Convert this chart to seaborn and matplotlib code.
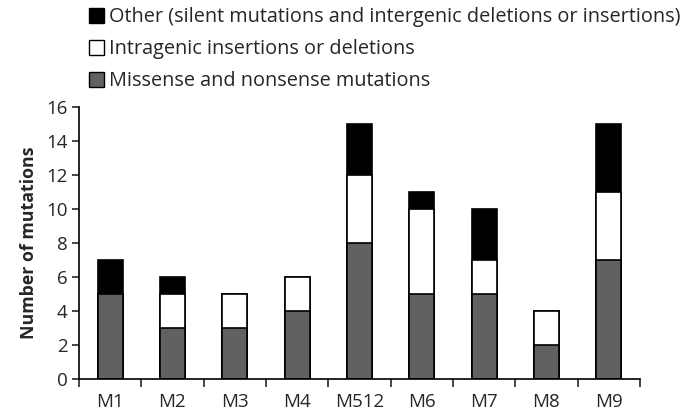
import numpy as np
import pandas as pd
import matplotlib
matplotlib.use('Agg')
import matplotlib.pyplot as plt
import seaborn as sns
from matplotlib.patches import Patch

strains = ['M1', 'M2', 'M3', 'M4', 'M512', 'M6', 'M7', 'M8', 'M9']
missense = [5, 3, 3, 4, 8, 5, 5, 2, 7]
indels = [0, 2, 2, 2, 4, 5, 2, 2, 4]
other = [2, 1, 0, 0, 3, 1, 3, 0, 4]

labels = ['Missense and nonsense mutations',
          'Intragenic insertions or deletions',
          'Other (silent mutations and intergenic deletions or insertions)']
colors = ['#616161', 'white', 'black']

sns.set_style('white')
plt.rcParams['font.family'] = ['Open Sans', 'DejaVu Sans']

df = pd.DataFrame({'strain': strains, 'missense': missense,
                   'indels': indels, 'other': other})
df['lvl1'] = df['missense']
df['lvl2'] = df['missense'] + df['indels']
df['lvl3'] = df['lvl2'] + df['other']

fig = plt.figure(figsize=(6.8, 4.17), dpi=100)
ax = fig.add_axes([0.116, 0.091, 0.825, 0.652])

# stacked bars: draw cumulative totals from top segment down
for col, c in zip(['lvl3', 'lvl2', 'lvl1'], colors[::-1]):
    sns.barplot(data=df, x='strain', y=col, color=c, width=0.4,
                edgecolor='black', linewidth=1.2, saturation=1, ax=ax)

ax.set_ylim(0, 16)
ax.set_xlim(-0.5, len(strains) - 0.5)
ax.set_yticks(range(0, 17, 2))
ax.set_xlabel('')
ax.set_ylabel('Number of mutations', fontsize=12.8, fontweight='bold', labelpad=6)
ax.tick_params(axis='y', labelsize=13.5, length=5, width=1.2, direction='out', left=True, pad=3)
ax.tick_params(axis='x', which='major', labelsize=13.5, length=0, pad=10)
ax.set_xticks(np.arange(-0.5, len(strains)), minor=True)
ax.tick_params(axis='x', which='minor', length=6, width=1.2, direction='out', bottom=True)
for s in ['top', 'right']:
    ax.spines[s].set_visible(False)
for s in ['left', 'bottom']:
    ax.spines[s].set_color('black')
    ax.spines[s].set_linewidth(1.2)

handles = [Patch(facecolor=colors[i], edgecolor='black', linewidth=1) for i in [2, 1, 0]]
fig.legend(handles, [labels[i] for i in [2, 1, 0]], loc='upper left',
           bbox_to_anchor=(0.105, 1.025), frameon=False, fontsize=14.3,
           handlelength=0.75, handleheight=0.75, handletextpad=0.25,
           labelspacing=0.6)

fig.savefig('out.png', dpi=100)
